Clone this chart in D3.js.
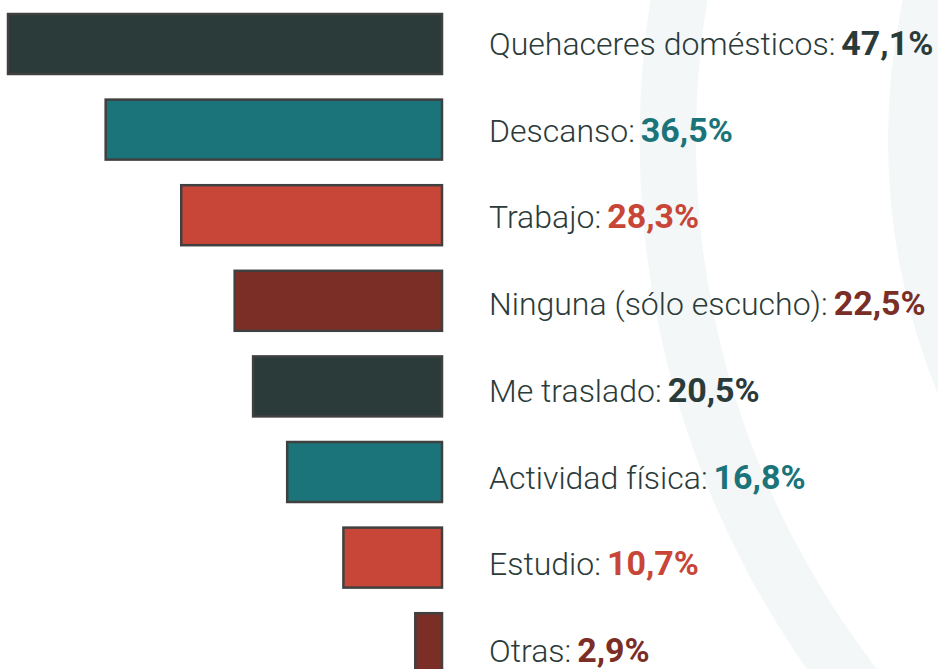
<!DOCTYPE html>
<html>
<head>
<meta charset="utf-8">
<script src="https://cdn.jsdelivr.net/npm/d3@7"></script>
<style>
  body { margin: 0; background: #fff; }
  svg { display: block; }
</style>
</head>
<body>
<div id="chart"></div>
<script>
// data
var categories = ["Quehaceres domésticos", "Descanso", "Trabajo", "Ninguna (sólo escucho)",
  "Me traslado", "Actividad física", "Estudio", "Otras"];
var values = [47.1, 36.5, 28.3, 22.5, 20.5, 16.8, 10.7, 2.9];
var valueLabels = ["47,1%", "36,5%", "28,3%", "22,5%", "20,5%", "16,8%", "10,7%", "2,9%"];
var palette = ["#2b3b39", "#1b7479", "#c84637", "#7a2e26"];

var width = 938, height = 669;

var svg = d3.select("#chart")
  .append("svg")
    .attr("width", width)
    .attr("height", height);

// light background arcs
var bg = svg.append("g").attr("transform", "translate(1560,140)");
var ring = d3.arc().startAngle(0).endAngle(2 * Math.PI);
bg.append("path")
  .attr("d", ring({innerRadius: 864, outerRadius: 920}))
  .attr("fill", "#f3f7f8");
bg.append("path")
  .attr("d", ring({innerRadius: 616, outerRadius: 672}))
  .attr("fill", "#f3f7f8");

// scales
var x = d3.scaleLinear()
  .domain([0, 47.1])
  .range([0, 434]);
var barRight = 442;

// 8 bands of 60px, step 85.6px
var y = d3.scaleBand()
  .domain(categories)
  .range([14, 14 + 85.6 * 7 + 60])
  .paddingInner(25.6 / 85.6)
  .paddingOuter(0);

// label baselines drift a little from the bars
var yText = d3.scalePoint()
  .domain(categories)
  .range([55, 662]);

var color = function(i) { return palette[i % palette.length]; };

// bars
svg.selectAll(".bar")
  .data(categories)
  .enter()
  .append("rect")
    .attr("class", "bar")
    .attr("x", function(d, i) { return barRight - x(values[i]); })
    .attr("y", function(d) { return y(d); })
    .attr("width", function(d, i) { return x(values[i]); })
    .attr("height", y.bandwidth())
    .attr("fill", function(d, i) { return color(i); })
    .attr("stroke", "#404040")
    .attr("stroke-width", 2.5);

// labels
var labels = svg.selectAll(".label")
  .data(categories)
  .enter()
  .append("text")
    .attr("class", "label")
    .attr("x", 489)
    .attr("y", function(d) { return yText(d); })
    .style("font-family", "Roboto, sans-serif");

labels.append("tspan")
  .attr("fill", "#2b3b39")
  .style("font-weight", 300)
  .style("font-size", "32px")
  .text(function(d) { return d + ":"; });

labels.append("tspan")
  .attr("dx", 6)
  .attr("fill", function(d, i) { return color(i); })
  .style("font-weight", 700)
  .style("font-size", "34px")
  .text(function(d, i) { return valueLabels[i]; });
</script>
</body>
</html>
